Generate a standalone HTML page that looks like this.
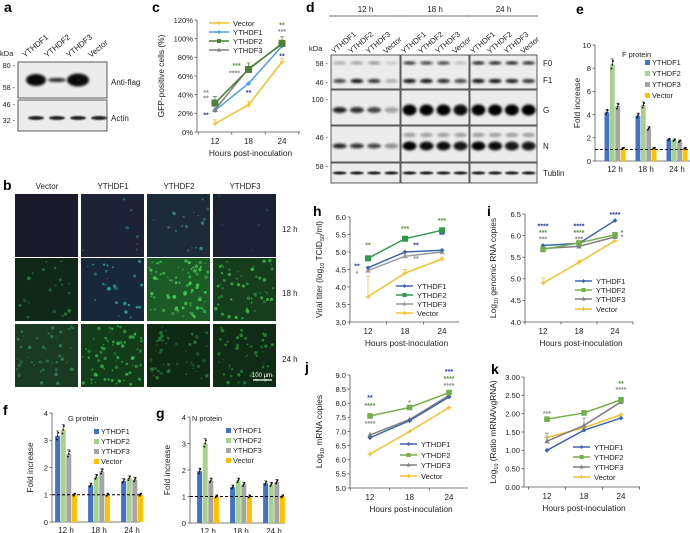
<!DOCTYPE html>
<html><head><meta charset="utf-8">
<style>
html,body{margin:0;padding:0;background:#fff;}
svg{display:block;font-family:"Liberation Sans",Arial,sans-serif;}
</style></head>
<body>
<svg id="fig" width="690" height="533" viewBox="0 0 690 533" xmlns="http://www.w3.org/2000/svg">
<defs>
<filter id="blur1" x="-50%" y="-50%" width="200%" height="200%"><feGaussianBlur stdDeviation="1.3"/></filter>
<filter id="blur2" x="-50%" y="-50%" width="200%" height="200%"><feGaussianBlur stdDeviation="0.8"/></filter>
</defs>
</svg>
<script>
// ---------- data ----------
const hours = [12, 18, 24];
const seriesNames = ['YTHDF1', 'YTHDF2', 'YTHDF3', 'Vector'];
// panel c (GFP-positive %)
const cVector = [9, 29, 75];
const cY1 = [23, 52, 92];
const cY2 = [31, 67, 95];
const cY3 = [24, 68, 94];
const cTicks = [0, 20, 40, 60, 80, 100, 120];
// panel h (viral titer)
const hY1 = [4.55, 5.0, 5.05];
const hY2 = [4.82, 5.38, 5.62];
const hY3 = [4.47, 4.88, 5.0];
const hVector = [3.72, 4.4, 4.8];
const hTicks = [3.0, 3.5, 4.0, 4.5, 5.0, 5.5, 6.0];
// panel i (genomic RNA)
const iY1 = [5.77, 5.82, 6.35];
const iY2 = [5.68, 5.83, 6.02];
const iY3 = [5.7, 5.75, 5.97];
const iVector = [4.9, 5.38, 5.88];
const iTicks = [4.0, 4.5, 5.0, 5.5, 6.0, 6.5];
// panel j (mRNA)
const jY1 = [6.78, 7.38, 8.22];
const jY2 = [7.55, 7.85, 8.38];
const jY3 = [6.88, 7.42, 8.28];
const jVector = [6.2, 7.0, 7.85];
const jTicks = [5.0, 5.5, 6.0, 6.5, 7.0, 7.5, 8.0, 8.5, 9.0];
// panel k (ratio)
const kY1 = [1.0, 1.55, 1.88];
const kY2 = [1.85, 2.02, 2.38];
const kY3 = [1.25, 1.68, 2.32];
const kVector = [1.35, 1.62, 1.97];
const kTicks = [0, 0.5, 1.0, 1.5, 2.0, 2.5, 3.0];
// bar panels e, f, g: values per group [YTHDF1, YTHDF2, YTHDF3, Vector]
const barGroups = ['12 h', '18 h', '24 h'];
const eVals = [[4.2, 8.3, 4.7, 1.1], [3.9, 4.8, 2.8, 1.1], [1.85, 1.8, 1.7, 1.1]];
const eTicks = [0, 2, 4, 6, 8, 10];
const fVals = [[3.15, 3.38, 2.5, 1.0], [1.35, 1.65, 1.85, 1.0], [1.5, 1.6, 1.55, 1.0]];
const fTicks = [0, 1, 2, 3, 4];
const gVals = [[1.95, 3.0, 1.6, 1.0], [1.35, 1.6, 1.45, 1.0], [1.5, 1.45, 1.55, 1.0]];
const gTicks = [0, 1, 2, 3, 4];

// ---------- helpers ----------
const NS = 'http://www.w3.org/2000/svg';
const svg = document.getElementById('fig');
function mk(tag, attrs, parent) {
  const e = document.createElementNS(NS, tag);
  for (const k in attrs) e.setAttribute(k, attrs[k]);
  (parent || svg).appendChild(e);
  return e;
}
function txt(x, y, s, attrs, parent) {
  const a = Object.assign({x: x, y: y, 'font-size': 8, fill: '#222'}, attrs || {});
  const t = mk('text', a, parent);
  t.textContent = s;
  return t;
}
function grp(name) {
  const g = mk('g', {});
  
  
  return g;
}
function panelLetter(x, y, s) {
  const t = txt(x, y, s, {'font-size': 14, 'font-weight': 'bold', fill: '#000'});
  
  
}

// ---------- line chart ----------
const lineColorsC = ['#4a9fe0', '#4e7f35', '#808080', '#f2c12e'];
const lineColorsH = ['#3f66ad', '#2f9a4c', '#9a9a9a', '#f2c12e'];
const lineColorsI = ['#3f66ad', '#74b04a', '#808080', '#f2c12e'];
function marker(g, kind, x, y, color, size) {
  let m;
  if (kind === 'diamond') m = mk('path', {d: `M${x} ${y-size}L${x+size} ${y}L${x} ${y+size}L${x-size} ${y}Z`, fill: color}, g);
  else if (kind === 'square') m = mk('rect', {x: x-size, y: y-size, width: 2*size, height: 2*size, fill: color}, g);
  else if (kind === 'triangle') m = mk('path', {d: `M${x} ${y-size-0.5}L${x+size} ${y+size-0.5}L${x-size} ${y+size-0.5}Z`, fill: color}, g);
  else m = mk('path', {d: `M${x-size} ${y}L${x+size} ${y}M${x} ${y-size}L${x} ${y+size}`, stroke: color, 'stroke-width': 1.2}, g);
  
  
}
function lineChart(p) {
  const g = grp(p.name);
  const yS = v => p.yb - (v - p.vmin) / (p.vmax - p.vmin) * (p.yb - p.yt);
  const xS = h => p.x12 + (h - 12) / 12 * (p.x24 - p.x12);
  const ya = mk('line', {x1: p.xa, y1: p.yt, x2: p.xa, y2: p.yb, stroke: '#555', 'stroke-width': 0.8}, g);
  
  
  const xa = mk('line', {x1: p.xa, y1: p.yb, x2: p.xe, y2: p.yb, stroke: '#555', 'stroke-width': 0.8}, g);
  
  
  p.ticks.forEach(v => {
    const y = yS(v);
    mk('line', {x1: p.xa - 2.5, y1: y, x2: p.xa, y2: y, stroke: '#555', 'stroke-width': 0.8}, g);
    const t = txt(p.xa - 4, y + 2.8, p.fmt(v), {'text-anchor': 'end', 'font-size': 7.6}, g);
    
    
  });
  const step = (p.x24 - p.x12) / 2;
  for (let k = 0; k <= 3; k++) {
    const x = p.x12 - step / 2 + k * step;
    if (x <= p.xe) mk('line', {x1: x, y1: p.yb, x2: x, y2: p.yb + 2.5, stroke: '#555', 'stroke-width': 0.8}, g);
  }
  hours.forEach(h => {
    const t = txt(xS(h), p.yb + 12, String(h), {'text-anchor': 'middle', 'font-size': 8}, g);
    
    
  });
  const xt = txt((p.xa + p.xe) / 2 + 2, p.yb + 24, 'Hours post-inoculation', {'text-anchor': 'middle', 'font-size': 8.4}, g);
  
  
  const ytl = txt(0, 0, '', {'text-anchor': 'middle', 'font-size': 8.4, transform: `translate(${p.ytx},${(p.yt + p.yb) / 2}) rotate(-90)`}, g);
  
  
  p.ytitle.forEach(part => {
    const ts = mk('tspan', part[1] ? {'font-size': 5.5, dy: 2} : {dy: part[2] ? -2 : 0}, ytl);
    ts.textContent = part[0];
  });
  const order = p.order || [3, 2, 0, 1];
  order.forEach(si => {
    const s = p.series[si];
    const pts = s.vals.map((v, i) => [xS(hours[i]), yS(v)]);
    if (s.err) s.vals.forEach((v, i) => {
      const x = xS(hours[i]);
      mk('path', {d: `M${x} ${yS(v)}L${x} ${yS(v + s.err[i])}M${x-2} ${yS(v + s.err[i])}L${x+2} ${yS(v + s.err[i])}`, stroke: s.color, 'stroke-width': 0.7, fill: 'none'}, g);
    });
    const l = mk('polyline', {points: pts.map(q => q.join(',')).join(' '), fill: 'none', stroke: s.color, 'stroke-width': 1.5}, g);
    
    
    pts.forEach(q => marker(g, s.marker, q[0], q[1], s.color, s.msize || 2.4));
  });
  p.series.forEach((s, i) => {
    const y = p.legY[i];
    const ll = mk('line', {x1: p.legX, y1: y, x2: p.legX + p.legW, y2: y, stroke: s.color, 'stroke-width': 1.5}, g);
    
    
    marker(g, s.marker, p.legX + p.legW / 2, y, s.color, 2);
    const t = txt(p.legX + p.legW + 4, y + 2.8, s.label, {'font-size': 7.6}, g);
    
    
  });
  (p.stars || []).forEach(st => {
    const t = txt(xS(hours[st[0]]) + (st[4] || 0), yS(st[1]) + 3, st[2], {'text-anchor': 'middle', 'font-size': 7, fill: st[3], 'font-weight': 'bold'}, g);
    
    
  });
}
const GR = '#8a8a8a', GN = '#5a8f3c', BL = '#2a3c9c';

// ---------- bar chart ----------
const barColors = ['#4472c4', '#a9d18e', '#a5a5a5', '#ffc000'];
function barChart(p) {
  const g = grp(p.name);
  const yS = v => p.yb - v / p.vmax * (p.yb - p.yt);
  mk('line', {x1: p.xa, y1: p.yt, x2: p.xa, y2: p.yb, stroke: '#555', 'stroke-width': 0.8}, g);
  const xa = mk('line', {x1: p.xa, y1: p.yb, x2: p.xe, y2: p.yb, stroke: '#555', 'stroke-width': 0.8}, g);
  
  
  p.ticks.forEach(v => {
    const y = yS(v);
    mk('line', {x1: p.xa - 2.5, y1: y, x2: p.xa, y2: y, stroke: '#555', 'stroke-width': 0.8}, g);
    const t = txt(p.xa - 4, y + 2.8, String(v), {'text-anchor': 'end', 'font-size': 7.6}, g);
    
    
  });
  const bw = p.bw, gap = p.gap;
  p.vals.forEach((grpVals, gi) => {
    const cx = p.gx[0] + gi * (p.gx[1] - p.gx[0]);
    const start = cx - (4 * bw + 3 * gap) / 2;
    grpVals.forEach((v, si) => {
      const x = start + si * (bw + gap);
      const r = mk('rect', {x: x, y: yS(v), width: bw, height: p.yb - yS(v), fill: barColors[si]}, g);
      
      
      mk('path', {d: `M${x+bw/2} ${yS(v)}L${x+bw/2} ${yS(v*1.06)}M${x+bw/2-1.5} ${yS(v*1.06)}L${x+bw/2+1.5} ${yS(v*1.06)}`, stroke: '#222', 'stroke-width': 0.6}, g);
      [-0.04, 0, 0.04].forEach((d, k) => mk('circle', {cx: x + bw / 2 + (k - 1) * 0.8, cy: yS(v * (1 + d)), r: 0.9, fill: '#111'}, g));
    });
    const t = txt(cx, p.yb + 11, barGroups[gi], {'text-anchor': 'middle', 'font-size': 8}, g);
    
    
  });
  const dl = mk('line', {x1: p.xa, y1: yS(1), x2: p.xe, y2: yS(1), stroke: '#000', 'stroke-width': 0.9, 'stroke-dasharray': '3,2'}, g);
  
  
  const yt = txt(0, 0, 'Fold increase', {'text-anchor': 'middle', 'font-size': 8.4, transform: `translate(${p.ytx},${(p.yt + p.yb) / 2}) rotate(-90)`}, g);
  
  
  const tt = txt(p.titleX, p.titleY, p.title, {'font-size': 7.4}, g);
  
  
  seriesNames.forEach((s, i) => {
    const r = mk('rect', {x: p.legX, y: p.legY[i] - 3, width: 5, height: 5, fill: barColors[i]}, g);
    
    
    const t = txt(p.legX + 7, p.legY[i] + 2, s, {'font-size': 7.4}, g);
    
    
  });
}

// ---------- blots ----------
function blotBox(g, x, y, w, h) {
  const r = mk('rect', {x: x, y: y, width: w, height: h, fill: '#ececec', stroke: '#333', 'stroke-width': 0.8}, g);
  
  
}
function band(g, cx, cy, w, h, op, filt) {
  const b = mk('ellipse', {cx: cx, cy: cy, rx: w / 2, ry: h / 2, fill: '#000', opacity: op, filter: filt || 'url(#blur1)'}, g);
  
  
}
function rotLabel(g, x, y, s, fs) {
  const t = txt(0, 0, s, {'font-size': fs || 8, transform: `translate(${x},${y}) rotate(-40)`}, g);
  
  
}

// ===== Panel a =====
panelLetter(4, 12, 'a');
(function () {
  const g = grp('panel-a-western-blot');
  const lanes = ['YTHDF1', 'YTHDF2', 'YTHDF3', 'Vector'];
  lanes.forEach((s, i) => rotLabel(g, 25 + i * 22, 58, s, 8));
  txt(0, 56, 'kDa', {'font-size': 7.5}, g);
  [['80', 68], ['58', 90], ['46', 107], ['32', 123]].forEach(m => txt(15, m[1], m[0] + ' -', {'text-anchor': 'end', 'font-size': 7.2}, g));
  blotBox(g, 18, 62, 89, 36);
  blotBox(g, 18, 100, 89, 31);
  band(g, 36, 80, 20, 12, 0.95);
  band(g, 57, 80, 18, 4, 0.85);
  band(g, 78, 80, 22, 13, 0.95);
  [31, 52, 73, 94].forEach(x => band(g, x + 5, 118, 16, 4, 0.85, 'url(#blur2)'));
  const a1 = txt(111, 85, 'Anti-flag', {'font-size': 8}, g);
  
  
  const a2 = txt(111, 121, 'Actin', {'font-size': 8}, g);
  
  
})();

// ===== Panel c =====
panelLetter(152, 12, 'c');
lineChart({
  name: 'panel-c-gfp-chart', xa: 197, xe: 300, yt: 20, yb: 132, vmin: 0, vmax: 120,
  ticks: cTicks, fmt: v => v + '%', x12: 215, x24: 282, ytx: 164,
  ytitle: [['GFP-positive cells (%)']],
  series: [
    {label: 'YTHDF1', vals: cY1, color: lineColorsC[0], marker: 'diamond'},
    {label: 'YTHDF2', vals: cY2, color: lineColorsC[1], marker: 'square', msize: 3.5, err: [7, 7, 7]},
    {label: 'YTHDF3', vals: cY3, color: lineColorsC[2], marker: 'triangle', msize: 3},
    {label: 'Vector', vals: cVector, color: lineColorsC[3], marker: 'plus', err: [4, 4, 4]}
  ],
  order: [3, 0, 2, 1],
  legX: 209, legW: 20, legY: [32, 41, 50, 23],
  stars: [[0, 43, '**', GR, -9], [0, 37, '**', GR, -9], [0, 19, '**', BL, -9],
          [1, 72, '***', GN, -12], [1, 64, '****', GR, -14], [1, 43, '**', BL, 0],
          [2, 115, '**', GN, 0], [2, 108, '***', GR, 0], [2, 82, '**', BL, 0]]
});

// ===== Panel b =====
panelLetter(3, 190, 'b');
(function () {
  const g = grp('panel-b-fluorescence-grid');
  const cols = ['Vector', 'YTHDF1', 'YTHDF2', 'YTHDF3'];
  const colX = [15, 81, 147, 213];
  const rowY = [194, 258, 324];
  const rowsLbl = ['12 h', '18 h', '24 h'];
  const bg = [['#1b1a2a', '#1e2338', '#1d2a38', '#1b2032'],
              ['#10281a', '#16283a', '#1c5a26', '#163e1c'],
              ['#1a3a26', '#133c18', '#0f2a14', '#102c16']];
  const dotCol = [['#1b1a2a', '#2f7080', '#3c9488', '#24506a'],
                  ['#24803f', '#36a89a', '#48d058', '#3cbc48'],
                  ['#33884f', '#38bc55', '#257a38', '#2a9038']];
  const dens = [[0, 8, 18, 5], [20, 26, 80, 55], [45, 70, 50, 50]];
  let seed = 7;
  const rnd = () => { seed = (seed * 16807) % 2147483647; return seed / 2147483647; };
  cols.forEach((c, ci) => {
    const t = txt(colX[ci] + 32, 189, c, {'text-anchor': 'middle', 'font-size': 8}, g);
    
    
  });
  rowY.forEach((y, ri) => {
    cols.forEach((c, ci) => {
      const r = mk('rect', {x: colX[ci], y: y, width: 63, height: 63, fill: bg[ri][ci]}, g);
      
      
      for (let k = 0; k < dens[ri][ci]; k++) {
        mk('circle', {cx: colX[ci] + 2 + rnd() * 59, cy: y + 2 + rnd() * 59, r: 0.7 + rnd() * 1.2, fill: dotCol[ri][ci], opacity: 0.4 + rnd() * 0.5}, g);
      }
    });
    const t = txt(282, y + 38, rowsLbl[ri], {'font-size': 8}, g);
    
    
  });
  const sb = mk('line', {x1: 253, y1: 380, x2: 272, y2: 380, stroke: '#fff', 'stroke-width': 1.2}, g);
  
  
  txt(262, 377, '100 µm', {'text-anchor': 'middle', 'font-size': 6, fill: '#fff'}, g);
})();

// ===== Panel d =====
panelLetter(306, 12, 'd');
(function () {
  const g = grp('panel-d-western-blot');
  const boxes = [[331, 69], [401, 68], [470, 67]];
  const hdr = ['12 h', '18 h', '24 h'];
  boxes.forEach((b, bi) => {
    txt(b[0] + b[1] / 2, 12, hdr[bi], {'text-anchor': 'middle', 'font-size': 8}, g);
    mk('line', {x1: b[0] - 2, y1: 16, x2: b[0] + b[1] + 1, y2: 16, stroke: '#444', 'stroke-width': 0.8}, g);
    ['YTHDF1', 'YTHDF2', 'YTHDF3', 'Vector'].forEach((s, i) => rotLabel(g, b[0] + 3 + i * b[1] / 4, 54, s, 7.6));
  });
  const rows = [[55, 34], [90, 35], [126, 36], [163, 20]];
  boxes.forEach(b => rows.forEach(r => blotBox(g, b[0], r[0], b[1], r[1])));
  const F0 = [[0.3, 0.35, 0.4, 0.15], [0.85, 0.8, 0.8, 0.2], [0.95, 0.95, 0.95, 0.9]];
  const F1 = [[0.7, 0.95, 0.8, 0.25], [0.95, 0.95, 0.85, 0.7], [0.95, 0.95, 0.9, 0.8]];
  const G = [[0.85, 0.8, 0.7, 0.3], [1, 1, 1, 0.95], [1, 1, 1, 1]];
  const N = [[0.85, 0.8, 0.7, 0.4], [1, 0.95, 0.95, 0.9], [1, 0.95, 0.9, 0.9]];
  boxes.forEach((b, bi) => {
    for (let i = 0; i < 4; i++) {
      const cx = b[0] + (i + 0.5) * b[1] / 4;
      band(g, cx, 63, 13, 3, F0[bi][i]);
      band(g, cx, 81, 13, 4, F1[bi][i]);
      band(g, cx, 110, 14, bi === 0 ? 6 : 11, G[bi][i]);
      band(g, cx, 146, 14, bi === 0 ? 5 : 9, N[bi][i]);
      if (bi > 0) band(g, cx, 135, 13, 4, 0.35);
      band(g, cx, 173, 14, 3, 0.9, 'url(#blur2)');
    }
  });
  txt(309, 51, 'kDa', {'font-size': 7.5}, g);
  [['58', 66], ['46', 85], ['100', 102], ['46', 140], ['58', 169]].forEach(m => txt(328, m[1], m[0] + ' -', {'text-anchor': 'end', 'font-size': 7.2}, g));
  [['F0', 66], ['F1', 83], ['G', 113], ['N', 149], ['Tublin', 176]].forEach(m => {
    const t = txt(543, m[1], m[0], {'font-size': 8}, g);
    
    
  });
})();

// ===== Panel e =====
panelLetter(576, 14, 'e');
barChart({name: 'panel-e-f-protein-chart', xa: 595, xe: 690, yt: 45, yb: 161, vmax: 10, ticks: eTicks,
  vals: eVals, gx: [615, 646], bw: 4.8, gap: 0.6, ytx: 580, title: 'F protein', titleX: 622, titleY: 57,
  legX: 645, legY: [63, 74, 85, 96]});

// ===== Panel f =====
panelLetter(3, 415, 'f');
barChart({name: 'panel-f-g-protein-chart', xa: 52, xe: 140, yt: 413, yb: 522, vmax: 4, ticks: fTicks,
  vals: fVals, gx: [66, 99], bw: 5, gap: 0.6, ytx: 33, title: 'G protein', titleX: 68, titleY: 421,
  legX: 94, legY: [432, 442, 452, 462]});

// ===== Panel g =====
panelLetter(156, 418, 'g');
barChart({name: 'panel-g-n-protein-chart', xa: 190, xe: 285, yt: 417, yb: 523, vmax: 4, ticks: gTicks,
  vals: gVals, gx: [208, 241], bw: 5, gap: 0.6, ytx: 170, title: 'N protein', titleX: 192, titleY: 421,
  legX: 226, legY: [431, 441, 451, 461]});

// ===== Panel h =====
panelLetter(313, 216, 'h');
lineChart({
  name: 'panel-h-viral-titer-chart', xa: 350, xe: 459, yt: 217, yb: 322, vmin: 3, vmax: 6,
  ticks: hTicks, fmt: v => v.toFixed(1), x12: 368, x24: 442, ytx: 322,
  ytitle: [['Viral titer (log'], ['10', 1], [' TCID', 0, 1], ['50', 1], ['/ml)', 0, 1]],
  series: [
    {label: 'YTHDF1', vals: hY1, color: lineColorsH[0], marker: 'diamond'},
    {label: 'YTHDF2', vals: hY2, color: lineColorsH[1], marker: 'square', msize: 3},
    {label: 'YTHDF3', vals: hY3, color: lineColorsH[2], marker: 'triangle', msize: 2.6},
    {label: 'Vector', vals: hVector, color: lineColorsH[3], marker: 'plus', err: [0.58, 0.1, 0.05]}
  ],
  legX: 396, legW: 17, legY: [286, 295, 304, 313],
  stars: [[0, 4.62, '**', BL, -11], [0, 4.4, '*', GR, -11], [0, 5.22, '**', GN, 0],
          [1, 5.68, '***', GN, 0], [1, 5.22, '**', BL, 11], [1, 4.83, '**', GR, 11],
          [2, 5.92, '***', GN, 0], [2, 5.5, '**', BL, 0]]
});

// ===== Panel i =====
panelLetter(487, 216, 'i');
lineChart({
  name: 'panel-i-genomic-rna-chart', xa: 525, xe: 633, yt: 214, yb: 322, vmin: 4, vmax: 6.5,
  ticks: iTicks, fmt: v => v.toFixed(1), x12: 543, x24: 615, ytx: 496,
  ytitle: [['Log'], ['10', 1], [' genomic RNA copies', 0, 1]],
  series: [
    {label: 'YTHDF1', vals: iY1, color: lineColorsI[0], marker: 'diamond'},
    {label: 'YTHDF2', vals: iY2, color: lineColorsI[1], marker: 'square', msize: 2.8},
    {label: 'YTHDF3', vals: iY3, color: lineColorsI[2], marker: 'triangle', msize: 2.6},
    {label: 'Vector', vals: iVector, color: lineColorsI[3], marker: 'plus', err: [0.12, 0.05, 0.05]}
  ],
  legX: 575, legW: 17, legY: [281, 290, 299, 309],
  stars: [[0, 6.23, '****', BL, 0], [0, 6.08, '***', GN, 0], [0, 5.93, '***', GR, 0],
          [1, 6.23, '****', BL, 0], [1, 6.08, '****', GN, 0], [1, 5.93, '***', GR, 0],
          [2, 6.5, '****', BL, 0], [2, 6.08, '*', GN, 7], [2, 5.98, '*', GR, 7]]
});

// ===== Panel j =====
panelLetter(305, 372, 'j');
lineChart({
  name: 'panel-j-mrna-chart', xa: 350, xe: 468, yt: 375, yb: 488, vmin: 5, vmax: 9,
  ticks: jTicks, fmt: v => v.toFixed(1), x12: 370, x24: 449, ytx: 322,
  ytitle: [['Log'], ['10', 1], [' mRNA copies', 0, 1]],
  series: [
    {label: 'YTHDF1', vals: jY1, color: lineColorsH[0], marker: 'diamond'},
    {label: 'YTHDF2', vals: jY2, color: lineColorsI[1], marker: 'square', msize: 2.8},
    {label: 'YTHDF3', vals: jY3, color: lineColorsI[2], marker: 'triangle', msize: 2.6},
    {label: 'Vector', vals: jVector, color: lineColorsI[3], marker: 'plus'}
  ],
  legX: 400, legW: 17, legY: [444, 455, 465, 476],
  stars: [[0, 8.22, '**', BL, 0], [0, 7.94, '****', GN, 0], [0, 7.3, '****', GR, 0],
          [1, 8.05, '*', GR, 0],
          [2, 9.14, '***', BL, 0], [2, 8.89, '****', GN, 0], [2, 8.65, '****', GR, 0]]
});

// ===== Panel k =====
panelLetter(491, 374, 'k');
lineChart({
  name: 'panel-k-ratio-chart', xa: 524, xe: 640, yt: 377, yb: 487, vmin: 0, vmax: 3,
  ticks: kTicks, fmt: v => v.toFixed(2), x12: 547, x24: 621, ytx: 496,
  ytitle: [['Log'], ['10', 1], [' (Ratio mRNA/vgRNA)', 0, 1]],
  series: [
    {label: 'YTHDF1', vals: kY1, color: lineColorsH[0], marker: 'diamond'},
    {label: 'YTHDF2', vals: kY2, color: lineColorsI[1], marker: 'square', msize: 2.8},
    {label: 'YTHDF3', vals: kY3, color: lineColorsI[2], marker: 'triangle', msize: 2.6, err: [0.22, 0.2, 0.1]},
    {label: 'Vector', vals: kVector, color: lineColorsI[3], marker: 'plus'}
  ],
  legX: 573, legW: 17, legY: [447, 457, 467, 477],
  stars: [[0, 2.02, '***', GR, 0], [2, 2.83, '**', GN, 0], [2, 2.67, '****', GR, 0]]
});
</script>
</body></html>
